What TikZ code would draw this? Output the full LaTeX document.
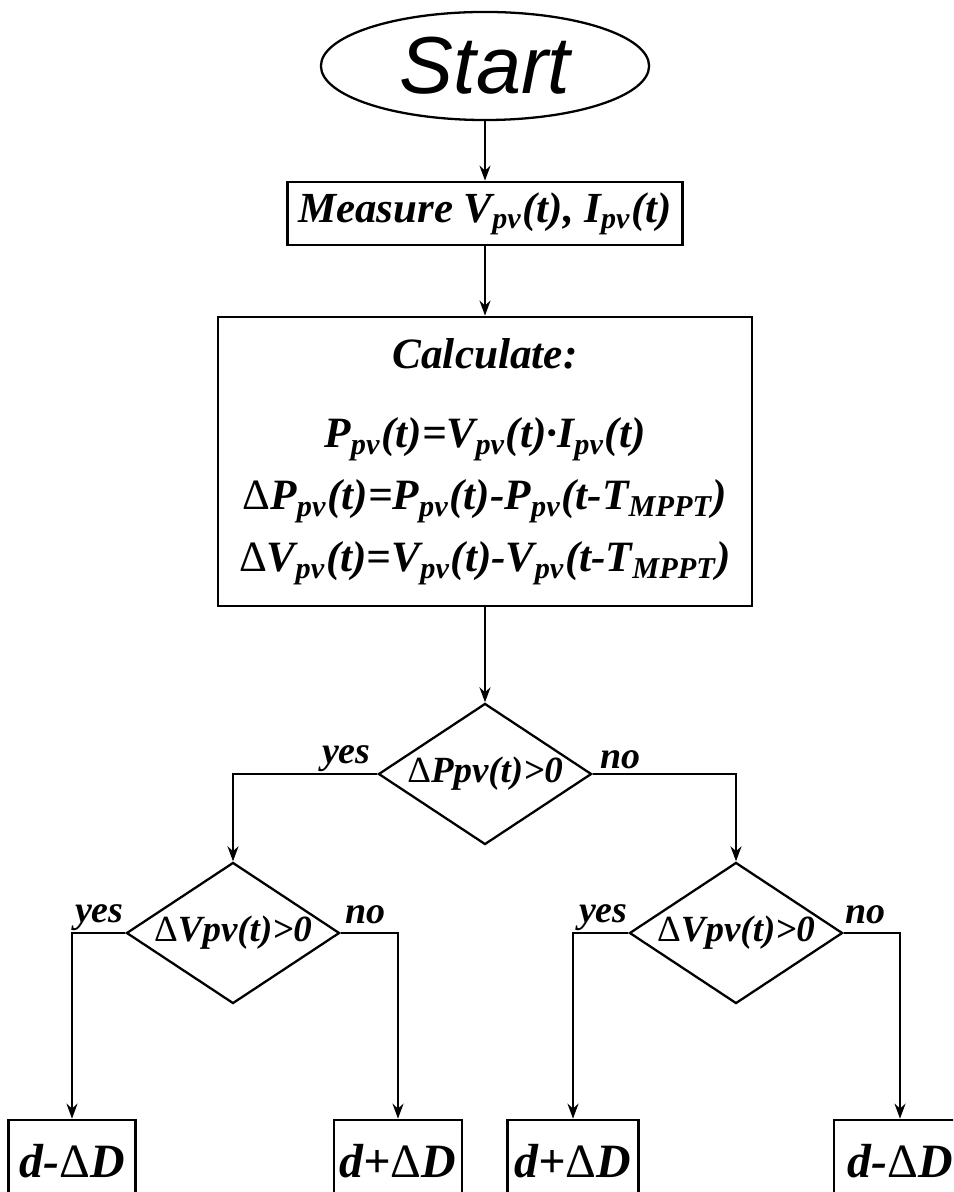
\documentclass[tikz,border=0pt]{standalone}
\usepackage{fontspec}
\setmainfont{Liberation Serif}
\newfontfamily\startfont{Liberation Sans}
\usetikzlibrary{arrows.meta, shapes.geometric}
\tikzset{
  term/.style={draw, ellipse, line width=0.65pt, inner sep=0pt,
               minimum width=3.28cm, minimum height=1.08cm,
               font=\startfont\itshape\fontsize{23}{26}\selectfont},
  proc/.style={draw, rectangle, line width=0.75pt, inner sep=0pt, align=center,
               font=\bfseries\itshape\fontsize{12.2}{14}\selectfont},
  decide/.style={draw, diamond, aspect=1.5, inner sep=0pt, line width=0.65pt,
                 minimum width=2.13cm, minimum height=1.41cm,
                 font=\bfseries\itshape\fontsize{10.5}{12}\selectfont},
  result/.style={proc, font=\bfseries\itshape\fontsize{13.6}{15}\selectfont},
  flow/.style={-{Stealth[length=0.15cm, width=0.11cm]}, line width=0.55pt},
  answer/.style={font=\bfseries\itshape\fontsize{10.8}{12}\selectfont, inner sep=0pt},
}
\newcommand{\dlt}{{\mdseries\upshape Δ}}

\begin{document}
\begin{tikzpicture}[x=0.01cm, y=-0.01cm]
  \useasboundingbox (0,0) rectangle (953,1192);
  \clip (0,0) rectangle (953,1192);

  % ---------- start and measurement ----------
  \node[term] (start) at (485, 66) {Start};
  \node[proc, minimum width=3.95cm, minimum height=0.63cm] (measure) at (485, 213.5)
    {Measure V\textsubscript{pv}(t), I\textsubscript{pv}(t)};

  % ---------- calculation block ----------
  \node[proc, minimum width=5.34cm, minimum height=2.89cm,
        font=\bfseries\itshape\fontsize{12.3}{17.6}\selectfont] (calc) at (485, 461.5)
    {Calculate:\\[5pt]
     P\textsubscript{pv}(t)=V\textsubscript{pv}(t)·I\textsubscript{pv}(t)\\
     \dlt P\textsubscript{pv}(t)=P\textsubscript{pv}(t)-P\textsubscript{pv}(t-T\textsubscript{MPPT})\\
     \dlt V\textsubscript{pv}(t)=V\textsubscript{pv}(t)-V\textsubscript{pv}(t-T\textsubscript{MPPT})};

  \draw[flow] (start.south) -- (measure.north);
  \draw[flow] (measure.south) -- (calc.north);

  % ---------- decisions ----------
  \node[decide] (dP) at (485, 774) {\dlt Ppv(t)>0};
  \node[decide] (dVa) at (233, 933) {\dlt Vpv(t)>0};
  \node[decide] (dVb) at (736, 933) {\dlt Vpv(t)>0};

  \draw[flow] (calc.south) -- (dP.north);
  \draw[flow] (dP.west) -| (dVa.north);
  \draw[flow] (dP.east) -| (dVb.north);
  \node[answer, anchor=base east] at ([xshift=-0.06cm, yshift=0.1cm]dP.west) {yes};
  \node[answer, anchor=base west] at ([xshift=0.07cm, yshift=0.06cm]dP.east) {no};

  % ---------- duty-cycle updates ----------
  \node[result, minimum width=1.27cm, minimum height=0.82cm] (outA) at (72, 1161) {d-\dlt D};
  \node[result, minimum width=1.28cm, minimum height=0.82cm] (outB) at (398, 1161) {d+\dlt D};
  \node[result, minimum width=1.31cm, minimum height=0.82cm] (outC) at (573, 1161) {d+\dlt D};
  \node[result, minimum width=1.32cm, minimum height=0.82cm] (outD) at (900, 1161) {d-\dlt D};

  \draw[flow] (dVa.west) -| (outA.north);
  \draw[flow] (dVa.east) -| (outB.north);
  \draw[flow] (dVb.west) -| (outC.north);
  \draw[flow] (dVb.east) -| (outD.north);
  \node[answer, anchor=base east] at ([xshift=-0.01cm, yshift=0.11cm]dVa.west) {yes};
  \node[answer, anchor=base west] at ([xshift=0.04cm, yshift=0.1cm]dVa.east) {no};
  \node[answer, anchor=base east] at ([yshift=0.11cm]dVb.west) {yes};
  \node[answer, anchor=base west] at ([xshift=0.01cm, yshift=0.1cm]dVb.east) {no};

\end{tikzpicture}
\end{document}
